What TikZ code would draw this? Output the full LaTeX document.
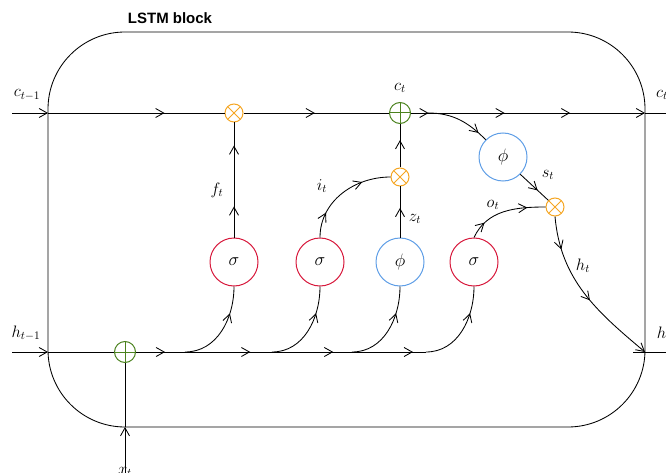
\documentclass[tikz,border=0pt]{standalone}
\usepackage{fontspec}
\setsansfont{Liberation Sans}
\usetikzlibrary{arrows.meta,decorations.markings}
\definecolor{opor}{RGB}{245,166,35}
\definecolor{sigred}{RGB}{215,25,60}
\definecolor{tanblue}{RGB}{95,158,230}
\definecolor{addgr}{RGB}{75,130,30}
\newcommand{\gatetxt}[1]{\scalebox{1.25}{$#1$}}
\tikzset{
  myarr/.tip={Straight Barb[length=8pt,width=9pt]},
  am/.style={postaction={decorate,decoration={markings,mark=at position #1 with {\arrow{myarr}}}}},
  ln/.style={draw=black, line width=0.85pt},
  gate/.style={circle, draw, line width=1pt, minimum size=48pt, inner sep=0pt, font=\fontsize{14.4}{17}\selectfont},
  sig/.style={gate, draw=sigred},
  tnh/.style={gate, draw=tanblue},
  mul/.style={circle, draw=opor, line width=1pt, minimum size=18pt, inner sep=0pt,
    path picture={\draw[opor,line width=1pt] (path picture bounding box.south west) -- (path picture bounding box.north east) (path picture bounding box.north west) -- (path picture bounding box.south east);}},
  addop/.style={circle, draw=addgr, line width=1pt, minimum size=21pt, inner sep=0pt,
    path picture={\draw[addgr,line width=1pt] (path picture bounding box.north) -- (path picture bounding box.south) (path picture bounding box.west) -- (path picture bounding box.east);}},
  lab/.style={font=\fontsize{14.4}{17}\selectfont, inner sep=0pt, scale=1.15},
}
\begin{document}
\begin{tikzpicture}[x=1pt,y=-1pt]
\clip (0,0) rectangle (666,473);
% block
\node[font=\sffamily\bfseries\fontsize{15}{18}\selectfont, inner sep=0pt] (title) at (170,18) {LSTM block};
\draw[ln, rounded corners=77pt] (48,32) rectangle (645,427);
% nodes
\node[sig] (s1) at (234,262) {\gatetxt{\sigma}};
\node[sig] (s2) at (320,262) {\gatetxt{\sigma}};
\node[tnh] (p1) at (400,262) {\gatetxt{\phi}};
\node[sig] (s3) at (474,262) {\gatetxt{\sigma}};
\node[tnh] (p2) at (503,157) {\gatetxt{\phi}};
\node[mul] (fx) at (234,113) {};
\node[addop] (cadd) at (400,113) {};
\node[mul] (ix) at (400,177) {};
\node[mul] (ox) at (555,207) {};
\node[addop] (xadd) at (125,352) {};
% coordinates
\coordinate (cin) at (12,113);
\coordinate (cl) at (48,113);
\coordinate (cb) at (428,113);
\coordinate (cr) at (645,113);
\coordinate (cout) at (690,113);
\coordinate (hin) at (12,352);
\coordinate (hl) at (48,352);
\coordinate (hb1) at (185,352);
\coordinate (hb2) at (272,352);
\coordinate (hb3) at (352,352);
\coordinate (hb4) at (426,352);
\coordinate (hr) at (645,352);
\coordinate (ho) at (633,352);
\coordinate (hout) at (690,352);
\coordinate (xin) at (125,490);
\coordinate (xb) at (125,427);
% cell line
\draw[ln,-{myarr}] (cin) -- (cl);
\draw[ln, am=0.66] (cl) -- (fx);
\draw[ln, am=0.49] (fx) -- (cadd);
\draw[ln, am=0.075, am=0.40, am=0.68, -{myarr}] (cadd) -- (cr);
\draw[ln] (cr) -- (cout);
% hidden line
\draw[ln,-{myarr}] (hin) -- (hl);
\draw[ln] (hl) -- (xadd);
\draw[ln, am=0.10, am=0.394, am=0.68, am=0.955] (xadd) -- (hb4);
\draw[ln, am=0.7] (hb1) to[out=0,in=-90] (s1.south);
\draw[ln, am=0.7] (hb2) to[out=0,in=-90] (s2.south);
\draw[ln, am=0.7] (hb3) to[out=0,in=-90] (p1.south);
\draw[ln, am=0.7] (hb4) to[out=0,in=-90] (s3.south);
\draw[ln,-{myarr}] (xin) -- (xb);
\draw[ln] (xb) -- (xadd);
% gates
\draw[ln, am=0.27, am=0.80] (s1) -- (fx);
\draw[ln, am=0.25, am=0.72] (s2.north) to[out=90,in=180] (ix.west);
\draw[ln, am=0.58] (p1) -- (ix);
\draw[ln, am=0.63] (ix) -- (cadd);
\draw[ln, am=0.22, am=0.78] (s3.north) to[out=65,in=180] (ox.west);
\draw[ln, am=0.85] (cb) to[out=0,in=135] (p2.north west);
\draw[ln, am=0.62] (p2.south east) -- (ox.north west);
\draw[ln, am=0.2, am=0.55, -{myarr}] (ox.south) to[out=-85,in=140] (hr);
\draw[ln] (ho) -- (hout);
% labels
\node[lab] (lc0) at (27,95) {$c_{t-1}$};
\node[lab] (lh0) at (26,333) {$h_{t-1}$};
\node[lab] (lct) at (400,88) {$c_t$};
\node[lab] (lcr) at (662,95) {$c_t$};
\node[lab] (lhr) at (664,334) {$h_t$};
\node[lab] (lf) at (217,190) {$f_t$};
\node[lab] (li) at (322,186) {$i_t$};
\node[lab] (lz) at (415,219) {$z_t$};
\node[lab] (lo) at (493,205) {$o_t$};
\node[lab] (ls) at (548,175) {$s_t$};
\node[lab] (lh) at (583,266) {$h_t$};
\node[lab] (lx) at (125,472) {$x_t$};
\end{tikzpicture}
\end{document}
